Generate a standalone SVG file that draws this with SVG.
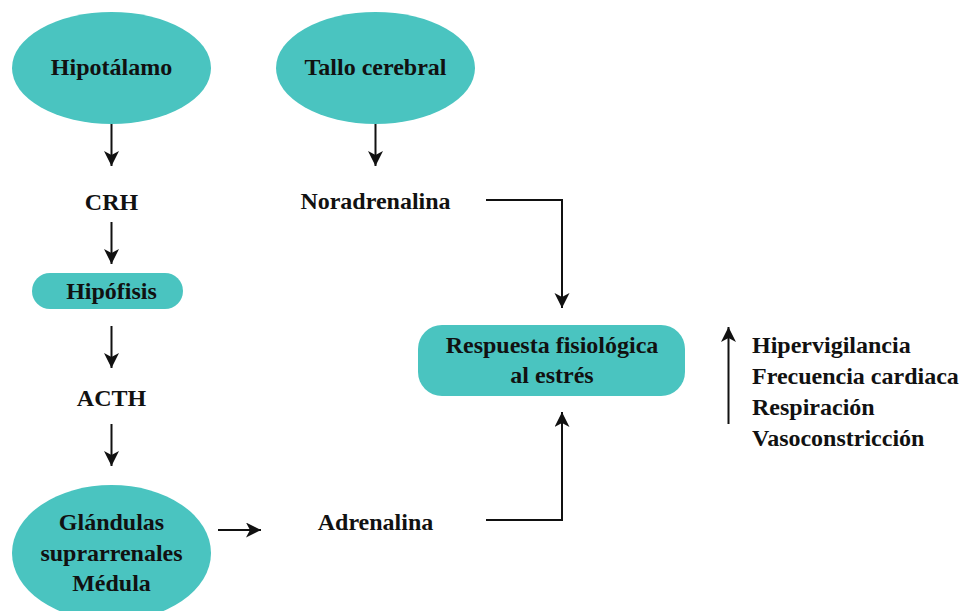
<svg xmlns="http://www.w3.org/2000/svg" width="974" height="611" viewBox="0 0 974 611">
  <defs>
    <marker id="arr" markerUnits="userSpaceOnUse" markerWidth="16" markerHeight="16" refX="15" refY="7.5" orient="auto">
      <path d="M0,0 L15,7.5 L0,15 L4,7.5 z" fill="#111"/>
    </marker>
    <style>
      .shape { fill: #4AC4C0; }
      .t { font-family: "Liberation Serif", serif; font-weight: bold; font-size: 24px; fill: #111; }
      .c { text-anchor: middle; }
      .ln { stroke: #111; stroke-width: 2; fill: none; }
    </style>
  </defs>
  <rect width="974" height="611" fill="#fff"/>

  <g id="hipotalamo">
    <ellipse class="shape" cx="111.5" cy="68" rx="99.5" ry="56"/>
    <text class="t c" style="font-family:'Liberation Serif',serif" x="111.5" y="75">Hipotálamo</text>
  </g>
  <g id="tallo">
    <ellipse class="shape" cx="375.5" cy="68" rx="99.5" ry="56"/>
    <text class="t c" style="font-family:'Liberation Serif',serif" x="375.5" y="75">Tallo cerebral</text>
  </g>
  <g id="crh">
    <text class="t c" style="font-family:'Liberation Serif',serif" x="111.5" y="210">CRH</text>
  </g>
  <g id="noradrenalina">
    <text class="t c" style="font-family:'Liberation Serif',serif" x="375.5" y="209">Noradrenalina</text>
  </g>
  <g id="hipofisis">
    <rect class="shape" x="32" y="273" width="151" height="36" rx="18" ry="18"/>
    <text class="t c" style="font-family:'Liberation Serif',serif" x="111.5" y="299">Hipófisis</text>
  </g>
  <g id="acth">
    <text class="t c" style="font-family:'Liberation Serif',serif" x="111.5" y="406">ACTH</text>
  </g>
  <g id="glandulas">
    <ellipse class="shape" cx="111.5" cy="553" rx="99.5" ry="68"/>
    <text class="t c" style="font-family:'Liberation Serif',serif" x="111.5" y="530">Glándulas</text>
    <text class="t c" style="font-family:'Liberation Serif',serif" x="111.5" y="561">suprarrenales</text>
    <text class="t c" style="font-family:'Liberation Serif',serif" x="111.5" y="591">Médula</text>
  </g>
  <g id="adrenalina">
    <text class="t c" style="font-family:'Liberation Serif',serif" x="375.5" y="530">Adrenalina</text>
  </g>
  <g id="respuesta">
    <rect class="shape" x="418" y="325" width="267" height="71" rx="24" ry="24"/>
    <text class="t c" style="font-family:'Liberation Serif',serif" x="552" y="353">Respuesta fisiológica</text>
    <text class="t c" style="font-family:'Liberation Serif',serif" x="552" y="383">al estrés</text>
  </g>
  <g id="efectos">
    <text class="t" style="font-family:'Liberation Serif',serif" x="752" y="353">Hipervigilancia</text>
    <text class="t" style="font-family:'Liberation Serif',serif" x="752" y="384">Frecuencia cardiaca</text>
    <text class="t" style="font-family:'Liberation Serif',serif" x="752" y="415">Respiración</text>
    <text class="t" style="font-family:'Liberation Serif',serif" x="752" y="446">Vasoconstricción</text>
  </g>

  <g id="connectors">
    <line class="ln" x1="111.5" y1="124" x2="111.5" y2="166" marker-end="url(#arr)"/>
    <line class="ln" x1="375.5" y1="124" x2="375.5" y2="166" marker-end="url(#arr)"/>
    <line class="ln" x1="111.5" y1="222" x2="111.5" y2="264" marker-end="url(#arr)"/>
    <line class="ln" x1="111.5" y1="326" x2="111.5" y2="368" marker-end="url(#arr)"/>
    <line class="ln" x1="111.5" y1="424" x2="111.5" y2="466" marker-end="url(#arr)"/>
    <line class="ln" x1="218" y1="530" x2="261" y2="530" marker-end="url(#arr)"/>
    <polyline class="ln" points="486,200 562,200 562,308" marker-end="url(#arr)"/>
    <polyline class="ln" points="486,520 562,520 562,412" marker-end="url(#arr)"/>
    <line class="ln" x1="728.5" y1="424" x2="728.5" y2="327" marker-end="url(#arr)"/>
  </g>
</svg>
